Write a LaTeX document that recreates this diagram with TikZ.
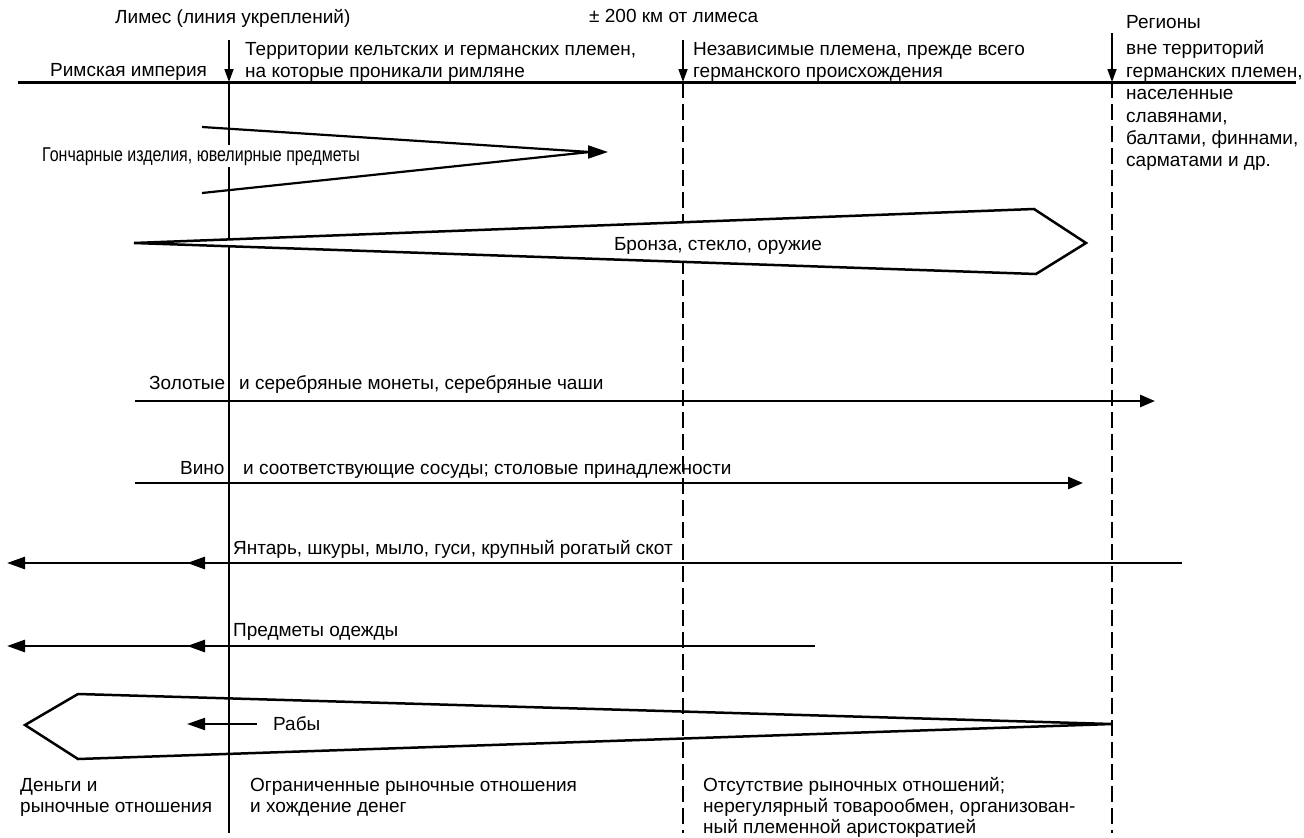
\documentclass[tikz,border=0pt]{standalone}
\usepackage{fontspec}
\setmainfont{Liberation Sans}
\newfontfamily\narrowfont{Liberation Sans}[FakeStretch=0.8]
\usetikzlibrary{arrows.meta}
\begin{document}
\begin{tikzpicture}[x=1pt,y=-1pt,
  lbl/.style={inner sep=0pt, anchor=base west, font=\fontsize{19}{22}\selectfont},
  clbl/.style={inner sep=0pt, anchor=base, font=\fontsize{19}{22}\selectfont},
  vline/.style={line width=1.7pt},
  dline/.style={line width=2pt, dash pattern=on 16pt off 6pt},
  outline/.style={line width=2.5pt, line join=miter},
  flow/.style={line width=2.7pt},
  downarr/.style={-{Triangle[length=13pt,width=9pt]}},
  smallarr/.style={-{Triangle[length=15pt,width=12pt]}},
  bigarr/.style={-{Triangle[length=18pt,width=12pt]}}]
\useasboundingbox (0,0) rectangle (1304,838);

% horizontal top line
\coordinate (hl) at (18,82);
\coordinate (hr) at (1296,82);
\draw[line width=3pt] (hl) -- (hr);

% limes line
\coordinate (l1t) at (229,40);
\coordinate (l1m) at (229,82);
\coordinate (l1b) at (229,833);
\draw[vline,downarr] (l1t) -- (l1m);
\draw[vline] (l1m) -- (l1b);

% 200 km line
\coordinate (l2t) at (683,40);
\coordinate (l2m) at (683,82);
\coordinate (l2b) at (683,833);
\draw[vline,downarr] (l2t) -- (l2m);
\draw[dline] (l2m) -- (l2b);

% outer regions line
\coordinate (l3t) at (1112,33);
\coordinate (l3m) at (1112,82);
\coordinate (l3b) at (1112,833);
\draw[vline,downarr] (l3t) -- (l3m);
\draw[dline] (l3m) -- (l3b);

% header texts
\node[lbl] (limes) at (115,23) {Лимес (линия укреплений)};
\node[lbl] (km) at (589,22) {± 200 км от лимеса};
\node[lbl] (terr1) at (245,55) {Территории кельтских и германских племен,};
\node[lbl] (terr2) at (245,77) {на которые проникали римляне};
\node[lbl] (ind1) at (693,55) {Независимые племена, прежде всего};
\node[lbl] (ind2) at (693,77) {германского происхождения};
\node[lbl] (rome) at (50,76.5) {Римская империя};
\node[lbl] (reg0) at (1126,28.5) {Регионы};
\node[lbl] (reg1) at (1126,54.5) {вне территорий};
\node[lbl] (reg2) at (1126,77) {германских племен,};
\node[lbl] (reg3) at (1126,99.5) {населенные};
\node[lbl] (reg4) at (1126,122) {славянами,};
\node[lbl] (reg5) at (1126,144) {балтами, финнами,};
\node[lbl] (reg6) at (1126,166.5) {сарматами и др.};

% pottery
\coordinate (p1) at (202,127);
\coordinate (p2) at (202,193);
\coordinate (ptip) at (590,152);
\coordinate (phead) at (608,152);
\draw[flow, line width=2.2pt] (p1) -- (ptip) -- (p2);
\draw[line width=2pt,-{Triangle[length=20pt,width=13pt]}] ([xshift=-4pt]ptip) -- (phead);
\node[lbl, fill=white, inner xsep=0pt, inner ysep=2pt, font=\fontsize{20}{22}\narrowfont] (pot) at (42,161) {Гончарные изделия, ювелирные предметы};

% bronze
\coordinate (b1) at (134,243);
\coordinate (b2) at (1034,209);
\coordinate (b3) at (1086,243);
\coordinate (b4) at (1036,274);
\draw[outline, fill=white] (b1) -- (b2) -- (b3) -- (b4) -- cycle;
\node[clbl] (bronze) at (718,250) {Бронза, стекло, оружие};

% gold
\coordinate (g1) at (135,401);
\coordinate (g2) at (1155,401);
\draw[flow,smallarr] (g1) -- (g2);
\node[lbl] (gold1) at (149,389.5) {Золотые};
\node[lbl] (gold2) at (239,389.5) {и серебряные монеты, серебряные чаши};

% wine
\coordinate (w1) at (135,483);
\coordinate (w2) at (1083,483);
\draw[flow,smallarr] (w1) -- (w2);
\node[lbl] (wine1) at (180,474.5) {Вино};
\node[lbl] (wine2) at (243,474.5) {и соответствующие сосуды; столовые принадлежности};

% amber
\coordinate (a1) at (1182,563);
\coordinate (a2) at (187,563);
\coordinate (a3) at (205,563);
\coordinate (a4) at (7,563);
\draw[flow,bigarr] (a1) -- (a2);
\draw[flow,bigarr] (a3) -- (a4);
\node[lbl] (amber) at (233,554.5) {Янтарь, шкуры, мыло, гуси, крупный рогатый скот};

% clothing
\coordinate (c1) at (815,646);
\coordinate (c2) at (187,646);
\coordinate (c3) at (205,646);
\coordinate (c4) at (7,646);
\draw[flow,bigarr] (c1) -- (c2);
\draw[flow,bigarr] (c3) -- (c4);
\node[lbl] (cloth) at (233,636.5) {Предметы одежды};

% slaves
\coordinate (s1) at (1112,724);
\coordinate (s2) at (78,694);
\coordinate (s3) at (25,725);
\coordinate (s4) at (78,759);
\draw[outline] (s1) -- (s2) -- (s3) -- (s4) -- cycle;
\coordinate (r1) at (257,724);
\coordinate (r2) at (187,724);
\draw[line width=2pt,bigarr] (r1) -- (r2);
\node[lbl] (slaves) at (273,730) {Рабы};

% bottom texts
\node[lbl] (m1) at (20,791) {Деньги и};
\node[lbl] (m2) at (20,812) {рыночные отношения};
\node[lbl] (lim1) at (250,791) {Ограниченные рыночные отношения};
\node[lbl] (lim2) at (250,812) {и хождение денег};
\node[lbl] (no1) at (703,791) {Отсутствие рыночных отношений;};
\node[lbl] (no2) at (703,812) {нерегулярный товарообмен, организован-};
\node[lbl] (no3) at (703,833) {ный племенной аристократией};
\end{tikzpicture}
\end{document}
